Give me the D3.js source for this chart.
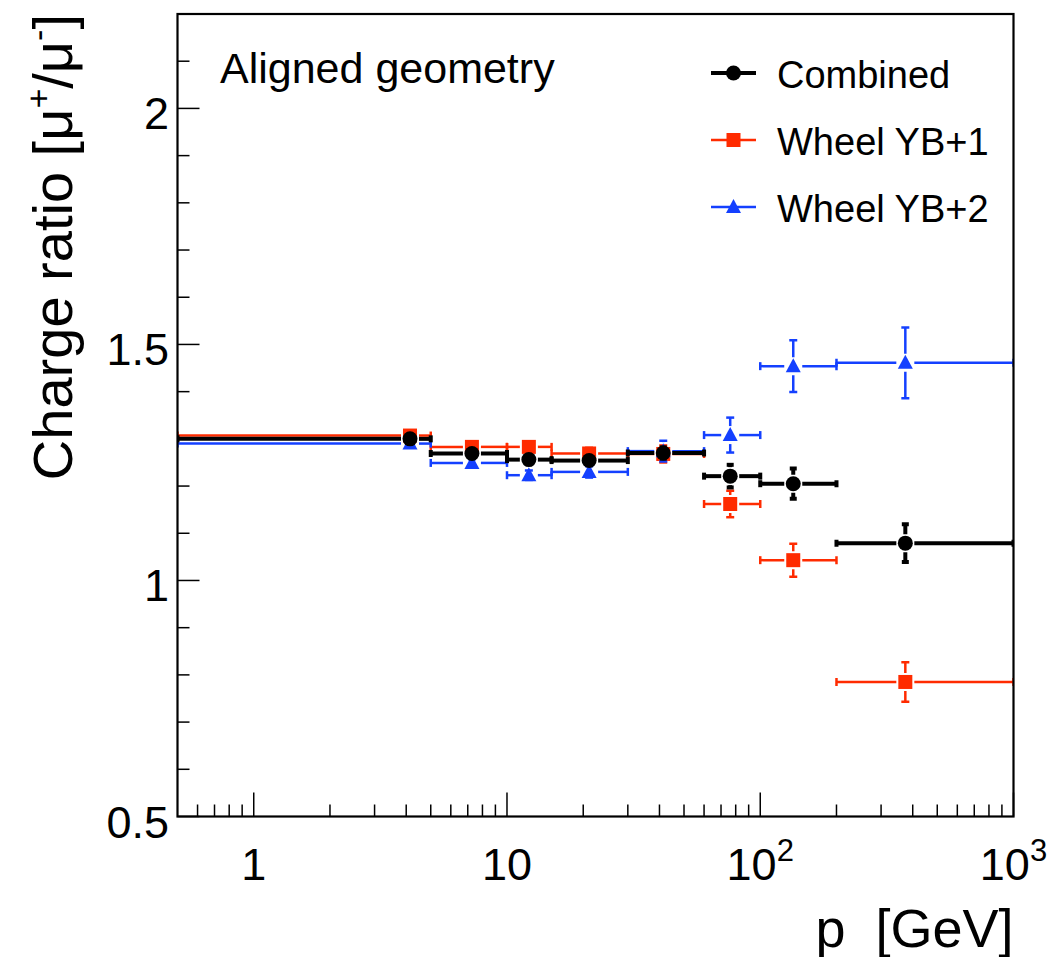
<!DOCTYPE html>
<html>
<head>
<meta charset="utf-8">
<title>Charge ratio vs momentum</title>
<style>
  body { margin: 0; background: #fff; }
  svg text { font-family: "Liberation Sans", Arial, Helvetica, sans-serif; fill: #000; }
</style>
<script src="https://d3js.org/d3.v7.min.js"></script>
</head>
<body>
<div id="chart"></div>
<script>
// bin edges in p [GeV] and the mean p of each bin (where the marker sits)
var binEdges = [0.5, 5, 10, 15, 30, 60, 100, 200, 1000];
var binMeans = [4.14, 7.27, 12.2, 21.1, 41.4, 76.1, 135, 374];

// charge ratio and its error, per bin
var combinedRatio = [1.300, 1.269, 1.256, 1.254, 1.270, 1.221, 1.205, 1.079];
var combinedErr   = [0.005, 0.006, 0.007, 0.008, 0.012, 0.024, 0.032, 0.040];
var yb1Ratio = [1.307, 1.283, 1.283, 1.269, 1.268, 1.162, 1.043, 0.785];
var yb1Err   = [0.007, 0.008, 0.010, 0.012, 0.018, 0.028, 0.035, 0.042];
var yb2Ratio = [1.290, 1.249, 1.223, 1.230, 1.274, 1.308, 1.454, 1.461];
var yb2Err   = [0.007, 0.008, 0.010, 0.012, 0.022, 0.037, 0.055, 0.075];

var xMajorTicks = [1, 10, 100, 1000];
var xTickLabels = [["1", ""], ["10", ""], ["10", "2"], ["10", "3"]];
var yMajorTicks = [0.5, 1, 1.5, 2];
var yTickLabels = ["0.5", "1", "1.5", "2"];

var series = [
    {name: "Wheel YB+1", color: "#ff2b00", marker: "square", width: 2.5, cap: 8, ratio: yb1Ratio, err: yb1Err},
    {name: "Wheel YB+2", color: "#1440ff", marker: "triangle", width: 2.5, cap: 8, ratio: yb2Ratio, err: yb2Err},
    {name: "Combined", color: "#000000", marker: "circle", width: 4, cap: 7, ratio: combinedRatio, err: combinedErr}
];
var legendOrder = ["Combined", "Wheel YB+1", "Wheel YB+2"];

var W = 1049, H = 957;
var padL = 177.5, padR = 1013.5, padT = 14, padB = 816.5;

var svg = d3.select("#chart").append("svg")
    .attr("width", W)
    .attr("height", H);

var x = d3.scaleLog().domain([0.5, 1000]).range([padL, padR]);
var y = d3.scaleLinear().domain([0.5, 2.2]).range([padB, padT]);

svg.append("clipPath").attr("id", "plotclip")
    .append("rect")
    .attr("x", padL).attr("y", padT)
    .attr("width", padR - padL).attr("height", padB - padT);

// x ticks: majors at decades, minors at 2..9
var xMinor = [];
[0.1, 1, 10, 100].forEach(function(dec) {
    for (var k = 2; k <= 9; k++) {
        var v = dec * k;
        if (v > 0.5 && v < 1000) xMinor.push(v);
    }
});
var axes = svg.append("g").attr("stroke", "#000").attr("stroke-width", 1.5);
axes.selectAll(".xminor").data(xMinor).enter().append("line")
    .attr("x1", d => x(d)).attr("x2", d => x(d))
    .attr("y1", padB).attr("y2", padB - 12);
axes.selectAll(".xmajor").data(xMajorTicks).enter().append("line")
    .attr("x1", d => x(d)).attr("x2", d => x(d))
    .attr("y1", padB).attr("y2", padB - 24);

// y ticks: majors every 0.5, minors every 0.1
var yMinor = d3.range(6, 22).map(d => d / 10).filter(d => yMajorTicks.indexOf(d) < 0);
axes.selectAll(".yminor").data(yMinor).enter().append("line")
    .attr("x1", padL).attr("x2", padL + 12)
    .attr("y1", d => y(d)).attr("y2", d => y(d));
axes.selectAll(".ymajor").data(yMajorTicks).enter().append("line")
    .attr("x1", padL).attr("x2", padL + 22)
    .attr("y1", d => y(d)).attr("y2", d => y(d));

// tick labels
var xl = svg.selectAll(".xlab").data(xMajorTicks).enter().append("text")
    .attr("x", d => x(d))
    .attr("y", 880)
    .attr("text-anchor", "middle")
    .attr("font-size", 45);
xl.append("tspan").text((d, i) => xTickLabels[i][0]);
xl.append("tspan").attr("dy", -19).attr("font-size", 31).text((d, i) => xTickLabels[i][1]);

svg.selectAll(".ylab").data(yMajorTicks).enter().append("text")
    .attr("x", 169)
    .attr("y", d => y(d) + 21)
    .attr("text-anchor", "end")
    .attr("font-size", 45)
    .text((d, i) => yTickLabels[i]);

// axis titles
svg.append("text")
    .attr("x", padR).attr("y", 947)
    .attr("text-anchor", "end")
    .attr("font-size", 54)
    .style("white-space", "pre")
    .text("p  [GeV]");

var yt = svg.append("text")
    .attr("transform", "translate(72," + padT + ") rotate(-90)")
    .attr("text-anchor", "end")
    .attr("font-size", 56);
yt.append("tspan").text("Charge ratio [\u03bc");
yt.append("tspan").attr("dy", -22).attr("font-size", 34).text("+");
yt.append("tspan").attr("dy", 22).text("/\u03bc");
yt.append("tspan").attr("dy", -22).attr("font-size", 34).text("-");
yt.append("tspan").attr("dy", 22).text("]");

// marker drawing helper
function drawMarker(g, type, cx, cy, color) {
    if (type === "circle") {
        g.append("circle").attr("cx", cx).attr("cy", cy).attr("r", 7.5).attr("fill", color);
    } else if (type === "square") {
        g.append("rect").attr("x", cx - 7).attr("y", cy - 7)
            .attr("width", 14).attr("height", 14).attr("fill", color);
    } else {
        g.append("path")
            .attr("d", "M" + cx + "," + (cy - 8) + "L" + (cx + 7.5) + "," + (cy + 6) + "L" + (cx - 7.5) + "," + (cy + 6) + "Z")
            .attr("fill", color);
    }
}

var plot = svg.append("g").attr("clip-path", "url(#plotclip)");
var gap = 9;

series.forEach(function(s) {
    var g = plot.append("g").attr("stroke", s.color).attr("stroke-width", s.width);
    binMeans.forEach(function(m, i) {
        var cx = x(m), cy = y(s.ratio[i]);
        var xlo = x(binEdges[i]), xhi = x(binEdges[i + 1]);
        var ylo = y(s.ratio[i] - s.err[i]), yhi = y(s.ratio[i] + s.err[i]);
        // horizontal bar (bin width)
        g.append("line").attr("x1", xlo).attr("x2", Math.max(xlo, cx - gap)).attr("y1", cy).attr("y2", cy);
        g.append("line").attr("x1", Math.min(xhi, cx + gap)).attr("x2", xhi).attr("y1", cy).attr("y2", cy);
        g.append("line").attr("x1", xlo).attr("x2", xlo).attr("y1", cy - s.cap / 2).attr("y2", cy + s.cap / 2);
        g.append("line").attr("x1", xhi).attr("x2", xhi).attr("y1", cy - s.cap / 2).attr("y2", cy + s.cap / 2);
        // vertical error
        if (cy - yhi > gap) g.append("line").attr("x1", cx).attr("x2", cx).attr("y1", yhi).attr("y2", cy - gap);
        if (ylo - cy > gap) g.append("line").attr("x1", cx).attr("x2", cx).attr("y1", cy + gap).attr("y2", ylo);
        var capW = s.cap;
        g.append("line").attr("x1", cx - capW / 2).attr("x2", cx + capW / 2).attr("y1", yhi).attr("y2", yhi);
        g.append("line").attr("x1", cx - capW / 2).attr("x2", cx + capW / 2).attr("y1", ylo).attr("y2", ylo);
        drawMarker(g.append("g").attr("stroke", "none"), s.marker, cx, cy, s.color);
    });
});

// frame
svg.append("rect")
    .attr("x", padL).attr("y", padT)
    .attr("width", padR - padL).attr("height", padB - padT)
    .attr("fill", "none").attr("stroke", "#000").attr("stroke-width", 2.2);

// label
svg.append("text")
    .attr("x", 220).attr("y", 83)
    .attr("font-size", 43)
    .text("Aligned geometry");

// legend
var legendY = [73, 140, 207];
legendOrder.forEach(function(name, i) {
    var s = series.filter(d => d.name === name)[0];
    var ly = legendY[i];
    var g = svg.append("g");
    g.append("line").attr("x1", 711).attr("x2", 756).attr("y1", ly).attr("y2", ly)
        .attr("stroke", s.color).attr("stroke-width", s.width);
    drawMarker(g, s.marker, 733.5, ly, s.color);
    g.append("text").attr("x", 777).attr("y", ly + 15)
        .attr("font-size", 38)
        .text(s.name);
});
</script>
</body>
</html>
